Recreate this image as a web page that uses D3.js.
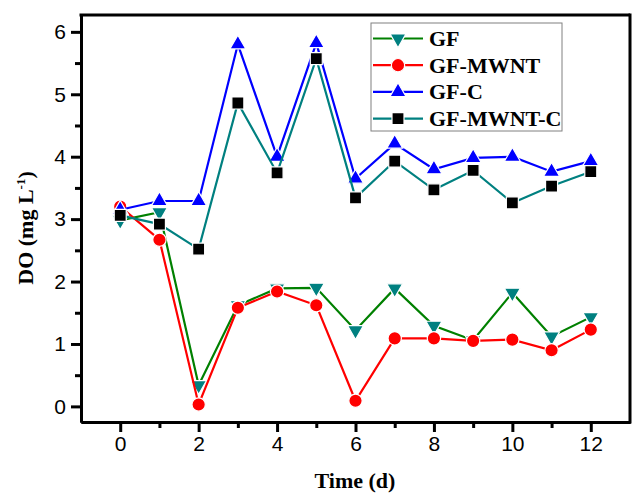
<!DOCTYPE html>
<html>
<head>
<meta charset="utf-8">
<script src="https://cdn.jsdelivr.net/npm/d3@7"></script>
<style>
    body { margin: 0; background: #fff; }
    .tick-label { font-family: "Liberation Sans", Arial, sans-serif; font-size: 21px; }
    .axis-title { font-family: "Liberation Serif", "Times New Roman", serif; font-size: 22px; font-weight: bold; }
    .legend-text { font-family: "Liberation Serif", "Times New Roman", serif; font-size: 22px; font-weight: bold; }
</style>
</head>
<body>
<div id="chart"></div>
<script>
// Data
let days = [0, 1, 2, 3, 4, 5, 6, 7, 8, 9, 10, 11, 12];
let gf = [2.98, 3.11, 0.34, 1.62, 1.89, 1.90, 1.22, 1.89, 1.29, 1.06, 1.82, 1.12, 1.43];
let gfMwnt = [3.20, 2.67, 0.03, 1.58, 1.84, 1.62, 0.09, 1.09, 1.09, 1.05, 1.07, 0.90, 1.23];
let gfC = [3.15, 3.29, 3.29, 5.80, 4.00, 5.82, 3.65, 4.21, 3.80, 3.98, 4.00, 3.76, 3.93];
let gfMwntC = [3.06, 2.92, 2.52, 4.86, 3.74, 5.57, 3.34, 3.93, 3.47, 3.78, 3.26, 3.53, 3.76];
let seriesNames = ["GF", "GF-MWNT", "GF-C", "GF-MWNT-C"];
let xTicks = [0, 2, 4, 6, 8, 10, 12];
let yTicks = [0, 1, 2, 3, 4, 5, 6];

let series = [
    {name: seriesNames[0], values: gf, line: "#008000", fill: "#008080", symbol: "down"},
    {name: seriesNames[1], values: gfMwnt, line: "#ff0000", fill: "#ff0000", symbol: "circle"},
    {name: seriesNames[2], values: gfC, line: "#0000ff", fill: "#0000ff", symbol: "up"},
    {name: seriesNames[3], values: gfMwntC, line: "#008080", fill: "#000000", symbol: "square"}
];

const width = 632, height = 494;
const plotLeft = 81, plotRight = 630, plotTop = 15, plotBottom = 422;

let svg = d3.select("#chart").append("svg")
    .attr("width", width)
    .attr("height", height);

let x = d3.scaleLinear().domain([-1, 13]).range([plotLeft, plotRight]);
let y = d3.scaleLinear().domain([-0.25, 6.27]).range([plotBottom, plotTop]);

// Axes with outward ticks, minor ticks in a second pass
svg.append("g")
    .attr("transform", "translate(0," + plotBottom + ")")
    .call(d3.axisBottom(x).tickValues(xTicks).tickFormat(d3.format("d"))
        .tickSize(10).tickSizeOuter(0).tickPadding(4));
svg.append("g")
    .attr("transform", "translate(0," + plotBottom + ")")
    .call(d3.axisBottom(x).tickValues(d3.range(1, 13, 2)).tickSize(6).tickSizeOuter(0).tickFormat(""));

svg.append("g")
    .attr("transform", "translate(" + plotLeft + ",0)")
    .call(d3.axisLeft(y).tickValues(yTicks).tickFormat(d3.format("d"))
        .tickSize(10).tickSizeOuter(0).tickPadding(5));
svg.append("g")
    .attr("transform", "translate(" + plotLeft + ",0)")
    .call(d3.axisLeft(y).tickValues(d3.range(0.5, 6, 1)).tickSize(6).tickSizeOuter(0).tickFormat(""));

svg.selectAll(".domain").attr("stroke", "#000").attr("stroke-width", 3);
svg.selectAll(".tick line").attr("stroke", "#000").attr("stroke-width", 3);
svg.selectAll(".tick text")
    .attr("class", "tick-label")
    .attr("fill", "#000");
svg.selectAll("g").attr("font-family", null).attr("font-size", null);

// Top and right frame
svg.append("line")
    .attr("x1", plotLeft - 1.5).attr("x2", plotRight)
    .attr("y1", plotTop).attr("y2", plotTop)
    .attr("stroke", "#000").attr("stroke-width", 3);
svg.append("line")
    .attr("x1", plotRight).attr("x2", plotRight)
    .attr("y1", plotTop - 1.5).attr("y2", plotBottom + 1.5)
    .attr("stroke", "#000").attr("stroke-width", 3);

// Axis titles
svg.append("text")
    .attr("class", "axis-title")
    .attr("x", 355)
    .attr("y", 488)
    .attr("text-anchor", "middle")
    .text("Time (d)");

let yTitle = svg.append("text")
    .attr("class", "axis-title")
    .attr("transform", "translate(33,228) rotate(-90)")
    .attr("text-anchor", "middle");
yTitle.append("tspan").text("DO (mg L");
yTitle.append("tspan").attr("dy", -8).style("font-size", "13px").text("-1");
yTitle.append("tspan").attr("dy", 8).text(")");

function symbolPath(kind) {
    if (kind === "circle") return d3.symbol(d3.symbolCircle, 140)();
    if (kind === "square") return d3.symbol(d3.symbolSquare, 144)();
    return d3.symbol(d3.symbolTriangle, 110)();
}

function drawMarker(g, kind, fill) {
    g.append("path")
        .attr("d", symbolPath(kind))
        .attr("transform", kind === "down" ? "rotate(180)" : null)
        .attr("fill", fill)
        .attr("stroke", "#fff")
        .attr("stroke-width", 1.2);
}

let line = d3.line()
    .x((d, i) => x(days[i]))
    .y(d => y(d));

// Each series: line then markers
series.forEach(function (s) {
    svg.append("path")
        .datum(s.values)
        .attr("d", line)
        .attr("fill", "none")
        .attr("stroke", s.line)
        .attr("stroke-width", 2.2);

    svg.append("g").selectAll("g")
        .data(s.values)
        .join("g")
        .attr("transform", (d, i) => "translate(" + x(days[i]) + "," + y(d) + ")")
        .each(function () { drawMarker(d3.select(this), s.symbol, s.fill); });
});

// Legend
let legend = svg.append("g");
legend.append("rect")
    .attr("x", 371).attr("y", 23)
    .attr("width", 191).attr("height", 108)
    .attr("fill", "#fff")
    .attr("stroke", "#808080")
    .attr("stroke-width", 1);

series.forEach(function (s, i) {
    let ly = 38.5 + i * 26.7;
    legend.append("line")
        .attr("x1", 373).attr("x2", 423)
        .attr("y1", ly).attr("y2", ly)
        .attr("stroke", s.line)
        .attr("stroke-width", 2.2);
    let m = legend.append("g").attr("transform", "translate(398," + ly + ")");
    drawMarker(m, s.symbol, s.fill);
    legend.append("text")
        .attr("class", "legend-text")
        .attr("x", 429)
        .attr("y", ly + 7.5)
        .text(s.name);
});
</script>
</body>
</html>
